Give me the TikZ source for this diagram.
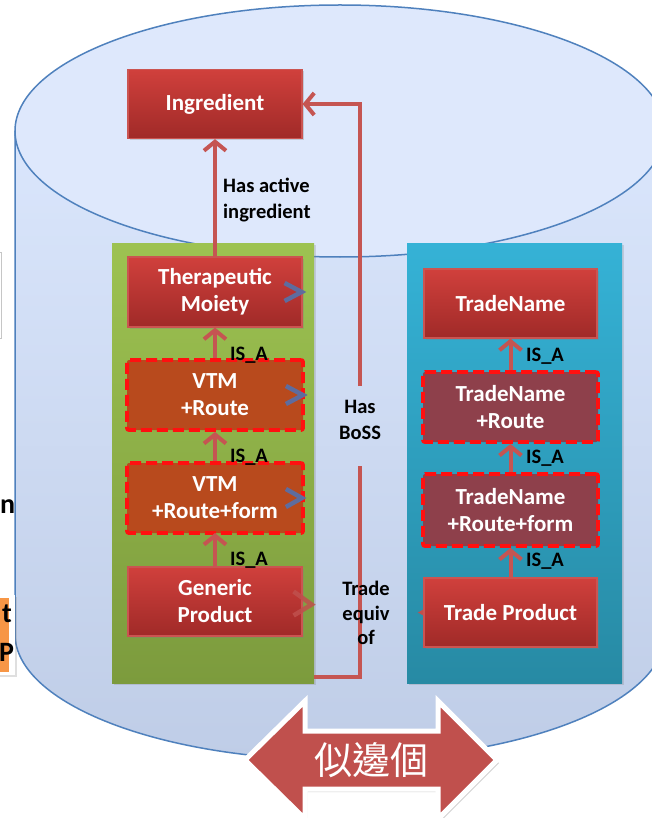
\documentclass[tikz,border=0pt]{standalone}
\usepackage{fontspec}
\setmainfont{Carlito}
\newfontfamily\cjkfont{Noto Sans CJK TC}
\usetikzlibrary{arrows.meta,shadows,calc}

\definecolor{cylLine}{HTML}{4F81BD}
\definecolor{cylTop}{HTML}{DEE8FC}
\definecolor{cylBodyTop}{HTML}{DAE6FC}
\definecolor{cylBodyBot}{HTML}{BFCDE7}
\definecolor{grnTop}{HTML}{9DC251}
\definecolor{grnBot}{HTML}{7C9B3D}
\definecolor{bluTop}{HTML}{35B2D6}
\definecolor{bluBot}{HTML}{278AA4}
\definecolor{redTop}{HTML}{D0403C}
\definecolor{redBot}{HTML}{A02A28}
\definecolor{redEdge}{HTML}{CB5451}
\definecolor{linkRed}{HTML}{C55552}
\definecolor{vtmFill}{HTML}{B84A1D}
\definecolor{tnFill}{HTML}{8E404B}
\definecolor{dashRed}{HTML}{FF1010}
\definecolor{chevBlue}{HTML}{5E6C9E}
\definecolor{arrowRed}{HTML}{C0504D}
\definecolor{fragOrange}{HTML}{F79646}

\newcommand\BoxTxt{\fontsize{23}{27}\selectfont\bfseries}
\newcommand\LblTxt{\fontsize{20.5}{26.5}\selectfont\bfseries}

\tikzset{
  panel/.style={rectangle, inner sep=0pt, draw=none,
    drop shadow={opacity=0.25, shadow xshift=2pt, shadow yshift=-2pt}},
  redbox/.style={rectangle, inner sep=0pt, minimum width=174pt, minimum height=69pt,
    top color=redTop, bottom color=redBot, draw=redEdge, line width=1.2pt,
    text=white, font=\BoxTxt, align=center,
    drop shadow={opacity=0.3, shadow xshift=2pt, shadow yshift=-2pt}},
  dashbox/.style={rectangle, inner sep=0pt, minimum width=176pt, minimum height=70pt,
    draw=dashRed, line width=3.8pt, dash pattern=on 11pt off 5pt, rounded corners=2pt,
    text=white, font=\BoxTxt, align=center},
  link/.style={draw=linkRed, line width=4pt,
    -{Straight Barb[length=9pt, width=22pt]}},
  plainlink/.style={draw=linkRed, line width=4pt},
  chevron/.style={line width=4.5pt, line cap=butt, line join=miter},
  lbl/.style={font=\LblTxt, text=black, inner sep=0pt, align=center},
  fragtxt/.style={font=\fontsize{28}{28}\selectfont\bfseries, inner sep=0pt},
}

\begin{document}
\begin{tikzpicture}[x=1pt, y=-1pt]
  \useasboundingbox (0,0) rectangle (652,818);
  \fill[white] (0,0) rectangle (652,818);
  \clip (0,0) rectangle (652,818);

  % database cylinder
  \shade[top color=cylBodyTop, bottom color=cylBodyBot]
    (15,131) -- (15,634) arc[start angle=180, end angle=0, x radius=325, y radius=126]
    -- (665,131) -- cycle;
  \draw[cylLine, line width=1.5pt]
    (15,131) -- (15,634) arc[start angle=180, end angle=0, x radius=325, y radius=126]
    -- (665,131);
  \draw[cylLine, line width=1.5pt, fill=cylTop] (340,131) ellipse[x radius=325, y radius=126];

  % pieces at the left edge
  \node[rectangle, fill=white, draw=gray!45, line width=1pt, minimum width=40pt,
        minimum height=86pt, inner sep=0pt] (fragA) at (-19,295) {};
  \node[fragtxt, anchor=west] (fragN) at (0,507) {n};
  \node[rectangle, fill=white, minimum width=40pt, minimum height=80pt, inner sep=0pt,
        drop shadow={opacity=0.25, shadow xshift=1.5pt, shadow yshift=-1.5pt}] (fragB) at (-5,635) {};
  \fill[fragOrange] (-20,598) rectangle (9,672);
  \node[fragtxt, anchor=west] (fragT) at (2,614) {t};
  \node[fragtxt, anchor=west] (fragP) at (-1,652) {P};

  % the two groups
  \node[panel, minimum width=202pt, minimum height=440pt, top color=grnTop, bottom color=grnBot]
    (green) at (213,463) {};
  \node[panel, minimum width=215pt, minimum height=440pt, top color=bluTop, bottom color=bluBot]
    (blue) at (514.5,463) {};

  % concept boxes
  \node[redbox] (ingr) at (215,104) {Ingredient};
  \node[redbox, minimum height=70pt] (tm) at (215,292) {Therapeutic\\Moiety};
  \node[dashbox, fill=vtmFill] (vtmr) at (215,395) {VTM\\+Route};
  \node[dashbox, fill=vtmFill] (vtmrf) at (215,498) {VTM\\+Route+form};
  \node[redbox] (gp) at (215,601.5) {Generic\\Product};

  \node[redbox, minimum width=173pt] (tn) at (510.5,303.5) {TradeName};
  \node[dashbox, fill=tnFill, minimum width=175pt] (tnr) at (510.5,407) {TradeName\\+Route};
  \node[dashbox, fill=tnFill, minimum width=175pt, minimum height=72pt] (tnrf) at (510.5,510) {TradeName\\+Route+form};
  % arrow tip hidden under the trade product box
  \draw[arrowRed, chevron] ($(510.5,612.5)+(-74,-8)$) -- ($(510.5,612.5)+(-88,0)$) -- ($(510.5,612.5)+(-74,8)$);
  \node[redbox, minimum width=173pt] (tp) at (510.5,612.5) {Trade Product};

  % relations
  \draw[link] (tm.north) -- (ingr.south);
  \draw[link] (vtmr.north) -- (tm.south);
  \draw[link] (vtmrf.north) -- (vtmr.south);
  \draw[link] (gp.north) -- (vtmrf.north |- 0,533);
  \draw[link] (tnr.north) -- (tn.south);
  \draw[link] (tnrf.north) -- (tnr.south);
  \draw[link] (tp.north) -- (tnrf.south);

  \coordinate (bossA) at (360,386);
  \draw[link] (bossA) |- (ingr.east);
  \coordinate (teA) at (360,466);
  \coordinate (teB) at (314,677);
  \draw[plainlink] (teA) |- (teB);

  % arrow tips at the right edge of the generic boxes
  \draw[chevBlue, chevron] ($(tm.east)+(-18,-9)$) -- ($(tm.east)+(-1,0)$) -- ($(tm.east)+(-18,9)$);
  \draw[chevBlue, chevron] ($(vtmr.east)+(-19,-9)$) -- ($(vtmr.east)+(-2,0)$) -- ($(vtmr.east)+(-19,9)$);
  \draw[chevBlue, chevron] ($(vtmrf.east)+(-19,-9)$) -- ($(vtmrf.east)+(-3,0)$) -- ($(vtmrf.east)+(-19,9)$);
  \draw[arrowRed, chevron, opacity=0.85] ($(gp.east)+(-9,-10)$) -- ($(gp.east)+(9,3)$) -- ($(gp.east)+(-9,14)$);

  % labels
  \node[lbl, anchor=west, align=left] (lblAct) at (223,200) {Has active\\ingredient};
  \node[lbl] (lblIsa1) at (249,355) {IS\_A};
  \node[lbl] (lblIsa2) at (249,457) {IS\_A};
  \node[lbl] (lblIsa3) at (249,560) {IS\_A};
  \node[lbl] (lblIsa4) at (545,356) {IS\_A};
  \node[lbl] (lblIsa5) at (545,458) {IS\_A};
  \node[lbl] (lblIsa6) at (545,561) {IS\_A};
  \node[lbl] (lblBoss) at (360,420) {Has\\BoSS};
  \node[lbl, font=\fontsize{20.5}{24.5}\selectfont\bfseries] (lblEquiv) at (366,613) {Trade\\equiv\\of};

  % two-way arrow at the bottom
  \filldraw[fill=arrowRed, draw=white, line width=5pt, line join=miter,
      drop shadow={opacity=0.35, shadow xshift=2pt, shadow yshift=-3pt}]
    (245,760) -- (305,701) -- (305,731) -- (438,731) -- (438,701) -- (497,760)
    -- (438,819) -- (438,789) -- (305,789) -- (305,819) -- cycle;
  \node[text=white, font=\cjkfont\fontsize{38}{38}\selectfont, inner sep=0pt] (who) at (371,760) {似邊個};
\end{tikzpicture}
\end{document}
